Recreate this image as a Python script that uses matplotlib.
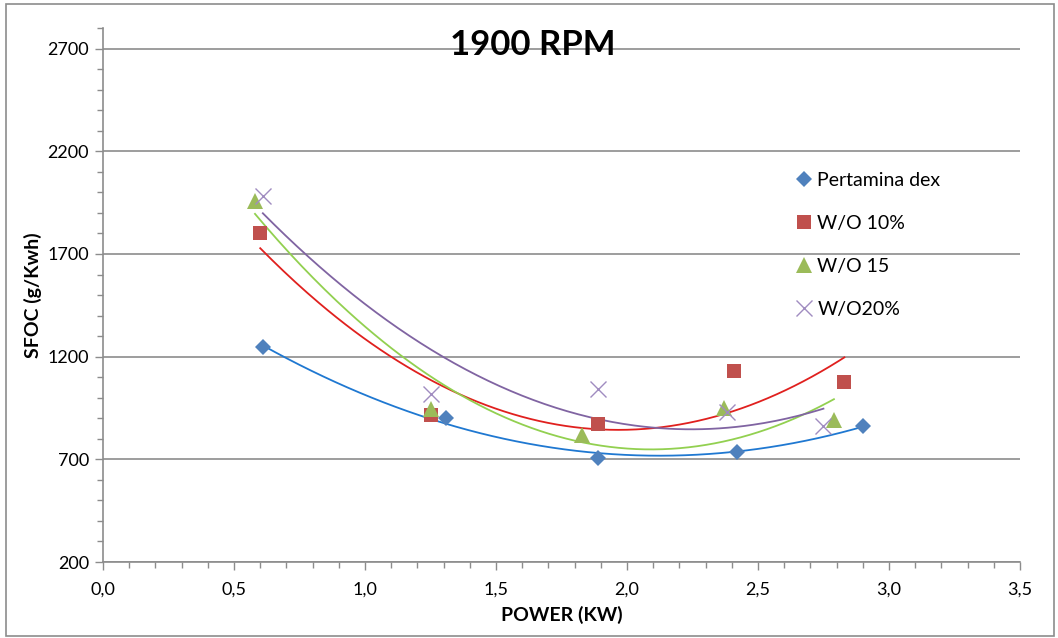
import numpy as np
import matplotlib
matplotlib.use("Agg")
import matplotlib.pyplot as plt
from matplotlib.ticker import FuncFormatter, MultipleLocator
from matplotlib.patches import Rectangle

# ----------------------------------------------------------
# Data
# ----------------------------------------------------------

dex_x = [0.61, 1.31, 1.89, 2.42, 2.90]
dex_y = [1246, 900, 708, 737, 864]

wo10_x = [0.60, 1.25, 1.89, 2.41, 2.83]
wo10_y = [1803, 915, 871, 1129, 1076]

wo15_x = [0.58, 1.25, 1.83, 2.37, 2.79]
wo15_y = [1960, 945, 818, 949, 890]

wo20_x = [0.61, 1.25, 1.89, 2.38, 2.75]
wo20_y = [1980, 1017, 1041, 930, 862]

labels = ["Pertamina dex", "W/O 10%", "W/O 15", "W/O20%"]

plt.rcParams["font.family"] = ["Lato", "DejaVu Sans"]

fig = plt.figure(figsize=(10.58, 6.38), dpi=100)
ax = fig.add_axes([0.0974, 0.1191, 0.8666, 0.8369])

series = [
    (dex_x, dex_y, "D", "#4F81BD", "#1F78D1", 8, labels[0]),
    (wo10_x, wo10_y, "s", "#C0504D", "#E0201E", 10, labels[1]),
    (wo15_x, wo15_y, "^", "#9BBB59", "#92D050", 11, labels[2]),
    (wo20_x, wo20_y, "x", "#A08CC0", "#8064A2", 11, labels[3]),
]

for xs, ys, marker, mcolor, lcolor, ms, label in series:
    xs = np.array(xs)
    ys = np.array(ys)

    # polynomial (order 2) trend line like Excel
    coef = np.polyfit(xs, ys, 2)
    xx = np.linspace(xs.min(), xs.max(), 200)
    ax.plot(xx, np.polyval(coef, xx), color=lcolor, lw=1.3, zorder=2)

    if marker == "x":
        ax.plot(xs, ys, linestyle="none", marker=marker, color=mcolor,
                markersize=ms, markeredgewidth=1.0, label=label, zorder=3)
    else:
        ax.plot(xs, ys, linestyle="none", marker=marker, color=mcolor,
                markersize=ms, markeredgewidth=0, label=label, zorder=3)

# ----------------------------------------------------------
# Axes styling
# ----------------------------------------------------------

ax.set_xlim(0, 3.5)
ax.set_ylim(200, 2800)

ax.xaxis.set_major_locator(MultipleLocator(0.5))
ax.xaxis.set_minor_locator(MultipleLocator(0.1))
ax.set_yticks([200, 700, 1200, 1700, 2200, 2700])
ax.yaxis.set_minor_locator(MultipleLocator(100))

ax.xaxis.set_major_formatter(FuncFormatter(lambda v, p: f"{v:.1f}".replace(".", ",")))

ax.grid(axis="y", which="major", color="#8C8C8C", lw=1.2)
ax.set_axisbelow(True)

for side in ["top", "right"]:
    ax.spines[side].set_visible(False)
for side in ["left", "bottom"]:
    ax.spines[side].set_color("#8C8C8C")
    ax.spines[side].set_linewidth(1.2)

ax.tick_params(which="major", length=6, color="#8C8C8C", width=1,
               labelsize=13, pad=4)
ax.tick_params(which="minor", length=4, color="#8C8C8C", width=1)
ax.tick_params(axis="x", pad=8)

ax.set_xlabel("POWER (KW)", fontsize=14, fontweight="bold", labelpad=6)
ax.set_ylabel("SFOC (g/Kwh)", fontsize=14, fontweight="bold", labelpad=4)

fig.text(0.504, 0.93, "1900 RPM", fontsize=25, fontweight="bold",
         ha="center", va="center")

ax.legend(loc="upper left", bbox_to_anchor=(0.745, 0.745), frameon=False,
          fontsize=14, labelspacing=1.33, handletextpad=0.2,
          handlelength=1.0, borderaxespad=0)

# chart area border
fig.patches.append(Rectangle((0.006, 0.003), 0.99, 0.99, transform=fig.transFigure,
                             fill=False, edgecolor="#8C8C8C", lw=1.2))

fig.savefig("out.png", dpi=100)
